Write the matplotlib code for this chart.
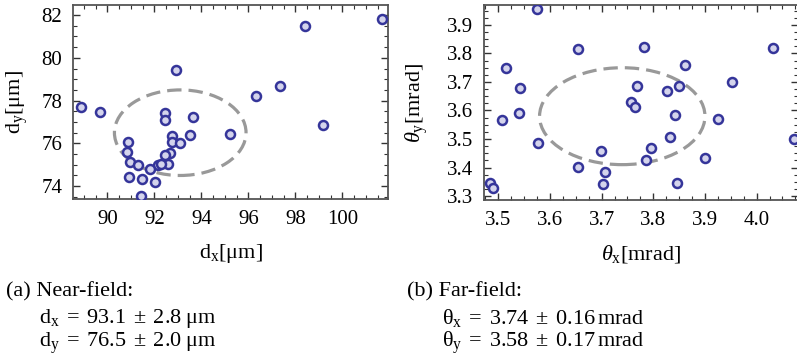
import matplotlib
matplotlib.use("Agg")
import matplotlib.pyplot as plt
from matplotlib.patches import Ellipse

plt.rcParams['font.family'] = ['Liberation Serif', 'DejaVu Serif']
plt.rcParams['mathtext.fontset'] = 'custom'
plt.rcParams['mathtext.rm'] = 'Liberation Serif'
plt.rcParams['mathtext.it'] = 'Liberation Serif:italic'
plt.rcParams['mathtext.bf'] = 'Liberation Serif:bold'

# Near-field data (µm)
near_dx = [88.86, 89.68, 92.91, 92.44, 92.46, 93.63, 92.74, 93.50, 95.21, 92.74,
           93.07, 90.88, 90.84, 92.67, 92.47, 90.98, 91.29, 92.60, 92.14, 92.30,
           91.83, 90.94, 91.46, 92.04, 91.43, 98.40, 101.68, 97.35, 96.34, 99.17]
near_dy = [77.71, 77.47, 79.42, 77.43, 77.09, 77.23, 76.36, 76.38, 76.42, 76.05,
           76.00, 76.08, 75.60, 75.55, 75.44, 75.13, 75.00, 75.05, 74.98, 75.02,
           74.79, 74.42, 74.34, 74.21, 73.54, 81.50, 81.83, 78.70, 78.20, 76.85]

# Far-field data (mrad)
far_tx = [3.575, 3.515, 3.542, 3.508, 3.540, 3.577, 3.654, 3.655, 3.698, 3.707,
          3.703, 3.485, 3.490, 3.757, 3.765, 3.768, 3.783, 3.861, 3.850, 3.826,
          3.842, 3.833, 3.795, 3.785, 3.845, 3.901, 3.925, 3.952, 4.032, 4.073]
far_ty = [3.957, 3.749, 3.678, 3.566, 3.590, 3.486, 3.815, 3.402, 3.459, 3.384,
          3.341, 3.345, 3.328, 3.630, 3.613, 3.686, 3.824, 3.759, 3.687, 3.670,
          3.584, 3.506, 3.467, 3.426, 3.346, 3.434, 3.570, 3.701, 3.820, 3.501]

near_mean = (93.1, 76.5)
near_std = (2.8, 2.0)
far_mean = (3.74, 3.58)
far_std = (0.16, 0.17)

W, H = 797, 359
fig = plt.figure(figsize=(W / 100, H / 100), dpi=100)

def px_axes(x0, y0, x1, y1):
    return fig.add_axes([x0 / W, 1 - y1 / H, (x1 - x0) / W, (y1 - y0) / H])

ax1 = px_axes(73.3, 5, 388, 199)
ax2 = px_axes(484, 5, 798, 200)

face = '#d4d4ec'
edge = '#35359a'
ell_col = '#999999'
spine_col = '#555555'

def style(ax):
    for s in ax.spines.values():
        s.set_color(spine_col)
        s.set_linewidth(1.3)
    ax.tick_params(which='both', direction='in', top=True, right=True,
                   color='#333333', labelsize=15, pad=8)
    ax.tick_params(which='major', length=5, width=1.0)
    ax.tick_params(which='minor', length=2.8, width=0.8)

ax1.scatter(near_dx, near_dy, s=42, facecolor=face, edgecolor=edge, linewidth=1.8, zorder=3)
ax1.add_patch(Ellipse(near_mean, 2 * near_std[0], 2 * near_std[1], fill=False,
                      edgecolor=ell_col, linewidth=2.3, linestyle=(0, (4.5, 2.2)), zorder=2))
ax1.set_xlim(88.55, 101.94)
ax1.set_ylim(73.4, 82.47)
ax1.set_xticks([90, 92, 94, 96, 98, 100])
ax1.set_yticks([74, 76, 78, 80, 82])
ax1.set_xticks([x / 2 for x in range(178, 204)], minor=True)
ax1.set_yticks([y / 2 for y in range(147, 165)], minor=True)
style(ax1)
ax1.set_xlabel(r'd$_\mathrm{x}$[μm]', fontsize=16, labelpad=9)
ax1.set_ylabel(r'd$_\mathrm{y}$[μm]', fontsize=16, labelpad=8)

ax2.scatter(far_tx, far_ty, s=42, facecolor=face, edgecolor=edge, linewidth=1.8, zorder=3, clip_on=True)
ax2.add_patch(Ellipse(far_mean, 2 * far_std[0], 2 * far_std[1], fill=False,
                      edgecolor=ell_col, linewidth=2.3, linestyle=(0, (4.5, 2.2)), zorder=2))
ax2.set_xlim(3.4725, 4.08)
ax2.set_ylim(3.286, 3.97)
ax2.set_xticks([3.5, 3.6, 3.7, 3.8, 3.9, 4.0])
ax2.set_xticklabels(['3.5', '3.6', '3.7', '3.8', '3.9', '4.0'])
ax2.set_yticks([3.3, 3.4, 3.5, 3.6, 3.7, 3.8, 3.9])
ax2.set_yticklabels(['3.3', '3.4', '3.5', '3.6', '3.7', '3.8', '3.9'])
ax2.set_xticks([x / 40 for x in range(139, 164)], minor=True)
ax2.set_yticks([y / 40 for y in range(132, 159)], minor=True)
style(ax2)
ax2.set_xlabel(r'$\theta_\mathrm{x}$[mrad]', fontsize=16, labelpad=9)
ax2.set_ylabel(r'$\theta_\mathrm{y}$[mrad]', fontsize=16, labelpad=12)

def ftext(x, y, s):
    fig.text(x / W, 1 - y / H, s, fontsize=16, ha='left', va='center')

ftext(6, 292, '(a) Near-field:')
ftext(39, 318, r'$\mathrm{d}_\mathrm{x}\;=\;\mathrm{93.1}\;\pm\;\mathrm{2.8}\;\mathrm{μm}$')
ftext(39, 343, r'$\mathrm{d}_\mathrm{y}\;=\;\mathrm{76.5}\;\pm\;\mathrm{2.0}\;\mathrm{μm}$')
ftext(407, 292, '(b) Far-field:')
ftext(442, 318, r'$\mathrm{θ}_\mathrm{x}\;=\;\mathrm{3.74}\;\pm\;\mathrm{0.16}\,\mathrm{mrad}$')
ftext(442, 343, r'$\mathrm{θ}_\mathrm{y}\;=\;\mathrm{3.58}\;\pm\;\mathrm{0.17}\,\mathrm{mrad}$')

fig.savefig('out.png', dpi=100)
